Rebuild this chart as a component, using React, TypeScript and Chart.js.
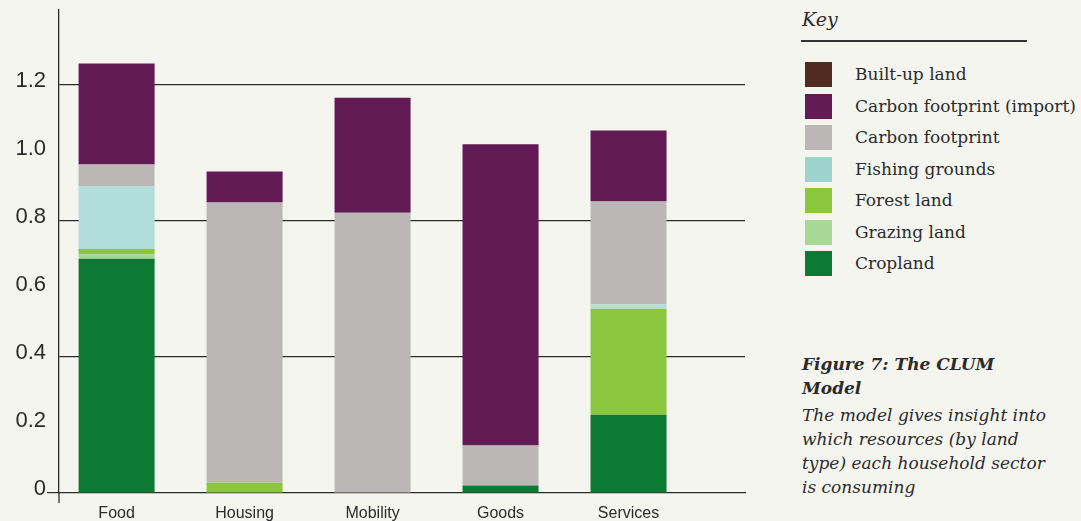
import React, { useEffect, useRef } from "react";
import { Chart, registerables } from "chart.js";

Chart.register(...registerables);

const CATEGORIES = ["Food", "Housing", "Mobility", "Goods", "Services"];

// Stack order: bottom to top
const CROPLAND = [0.689, 0, 0, 0.022, 0.23];
const GRAZING_LAND = [0.012, 0, 0, 0, 0];
const FOREST_LAND = [0.017, 0.03, 0, 0, 0.312];
const FISHING_GROUNDS = [0.183, 0, 0, 0, 0.012];
const CARBON_FOOTPRINT = [0.065, 0.824, 0.824, 0.118, 0.303];
const CARBON_IMPORT = [0.297, 0.091, 0.338, 0.885, 0.209];
const BUILT_UP_LAND = [0, 0, 0, 0, 0];

const Y_TICKS = [0, 0.2, 0.4, 0.6, 0.8, 1.0, 1.2];
const Y_TICK_LABELS = ["0", "0.2", "0.4", "0.6", "0.8", "1.0", "1.2"];
const GRID_VALUES = [0.4, 0.8, 1.2];

const SERIES = [
  { label: "Cropland", data: CROPLAND, color: "#0C7A34", key: "#0C7A34" },
  { label: "Grazing land", data: GRAZING_LAND, color: "#A9D796", key: "#A9D796" },
  { label: "Forest land", data: FOREST_LAND, color: "#8CC63F", key: "#8CC63F" },
  { label: "Fishing grounds", data: FISHING_GROUNDS, color: "#B1DEDB", key: "#9ED2CC" },
  { label: "Carbon footprint", data: CARBON_FOOTPRINT, color: "#BBB7B6", key: "#BBB7B6" },
  { label: "Carbon footprint (import)", data: CARBON_IMPORT, color: "#621A55", key: "#621A55" },
  { label: "Built-up land", data: BUILT_UP_LAND, color: "#4F2B22", key: "#4F2B22" },
];

const X_MIN = -0.45;
const X_MAX = 4.91;
const INK = "#2b2b2b";
const BG = "#F5F5F0";
const SERIF = "'DejaVu Serif', serif";

const axisFoot = {
  id: "axisFoot",
  afterDraw(chart: any) {
    const { ctx, chartArea } = chart;
    ctx.save();
    ctx.strokeStyle = INK;
    ctx.lineWidth = 1.3;
    ctx.beginPath();
    ctx.moveTo(chartArea.left, chartArea.bottom);
    ctx.lineTo(chartArea.left, chartArea.bottom + 10);
    ctx.stroke();
    ctx.restore();
  },
};

export default function App() {
  const canvasRef = useRef<HTMLCanvasElement | null>(null);

  useEffect(() => {
    if (!canvasRef.current) return;
    const chart = new Chart(canvasRef.current, {
      type: "bar",
      data: {
        datasets: SERIES.map((s) => ({
          label: s.label,
          data: s.data.map((v, i) => ({ x: i, y: v })),
          backgroundColor: s.color,
          borderWidth: 0,
          barPercentage: 0.594,
          categoryPercentage: 1,
        })),
      },
      plugins: [axisFoot],
      options: {
        animation: false,
        responsive: true,
        maintainAspectRatio: false,
        layout: { padding: { top: 10, right: 15, left: 0, bottom: 0 } },
        plugins: { legend: { display: false }, tooltip: { enabled: false } },
        scales: {
          x: {
            type: "linear",
            stacked: true,
            offset: false,
            min: X_MIN,
            max: X_MAX,
            afterBuildTicks: (axis: any) => {
              axis.ticks = CATEGORIES.map((_, i) => ({ value: i }));
            },
            afterFit: (axis: any) => {
              axis.height = 28;
              axis.paddingLeft = 0;
              axis.paddingRight = 0;
            },
            grid: {
              offset: false,
              drawOnChartArea: false,
              drawTicks: true,
              tickLength: 10,
              color: "rgba(0,0,0,0)",
              tickColor: "rgba(0,0,0,0)",
            },
            border: { display: true, color: INK, width: 1.3 },
            ticks: {
              autoSkip: false,
              maxRotation: 0,
              padding: 1,
              color: INK,
              font: { family: "'Liberation Sans', Arial, sans-serif", size: 16 },
              callback: (v: any) => (Number.isInteger(v) ? CATEGORIES[v] : ""),
            },
          },
          y: {
            stacked: true,
            min: 0,
            max: 1.42,
            afterBuildTicks: (axis: any) => {
              axis.ticks = Y_TICKS.map((v) => ({ value: v }));
            },
            afterFit: (axis: any) => {
              axis.width = 59;
              axis.paddingTop = 0;
              axis.paddingBottom = 0;
            },
            grid: {
              drawTicks: true,
              tickLength: 12,
              lineWidth: 1.2,
              color: (ctx: any) =>
                ctx.tick && GRID_VALUES.some((g) => Math.abs(g - ctx.tick.value) < 1e-6) ? INK : "rgba(0,0,0,0)",
              tickColor: (ctx: any) => (ctx.tick && ctx.tick.value === 0 ? INK : "rgba(0,0,0,0)"),
            },
            border: { display: true, color: INK, width: 1.3 },
            ticks: {
              padding: 1,
              labelOffset: -4,
              color: INK,
              font: { family: "'Liberation Sans', Arial, sans-serif", size: 22 },
              callback: (v: any) => {
                const idx = Y_TICKS.findIndex((t) => Math.abs(t - v) < 1e-6);
                return idx >= 0 ? Y_TICK_LABELS[idx] : "";
              },
            },
          },
        },
      } as any,
    });
    return () => chart.destroy();
  }, []);

  const keyItems = [...SERIES].reverse();

  return (
    <div style={{ position: "fixed", left: 0, top: 0, width: 1081, height: 521, background: BG, overflow: "hidden" }}>
      <div style={{ position: "absolute", left: 0, top: 0, width: 760, height: 521 }}>
        <canvas ref={canvasRef} />
      </div>
      <div
        style={{
          position: "absolute",
          left: 802,
          top: 6,
          fontFamily: SERIF,
          fontStyle: "italic",
          fontSize: 19,
          color: INK,
          lineHeight: "26px",
        }}
      >
        Key
      </div>
      <div style={{ position: "absolute", left: 801, top: 40, width: 226, height: 1.5, background: "#333" }} />
      <div style={{ position: "absolute", left: 805, top: 62 }}>
        {keyItems.map((s) => (
          <div key={s.label} style={{ display: "flex", alignItems: "center", height: 25, marginBottom: 6.5 }}>
            <div style={{ width: 27, height: 25, background: s.key, flex: "none" }} />
            <div
              style={{
                marginLeft: 23,
                fontFamily: SERIF,
                fontSize: 17,
                color: INK,
                whiteSpace: "nowrap",
                lineHeight: "25px",
              }}
            >
              {s.label}
            </div>
          </div>
        ))}
      </div>
      <div style={{ position: "absolute", left: 802, top: 353, width: 270, fontFamily: SERIF, color: INK }}>
        <div style={{ fontStyle: "italic", fontWeight: "bold", fontSize: 17, lineHeight: "23.5px" }}>
          Figure 7: The CLUM
          <br />
          Model
        </div>
        <div style={{ fontStyle: "italic", fontSize: 17, lineHeight: "24px", marginTop: 3 }}>
          The model gives insight into
          <br />
          which resources (by land
          <br />
          type) each household sector
          <br />
          is consuming
        </div>
      </div>
    </div>
  );
}
